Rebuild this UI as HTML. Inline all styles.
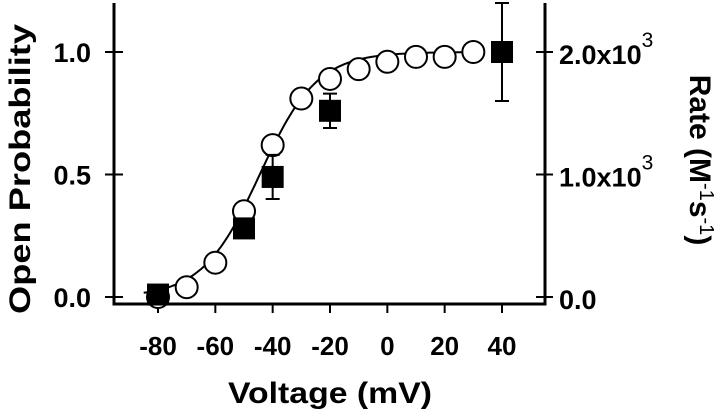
<!DOCTYPE html>
<html><head><meta charset="utf-8"><style>
body{margin:0;background:#fff;width:720px;height:413px;overflow:hidden}
svg text{font-family:"Liberation Sans",Arial,sans-serif;font-weight:bold;fill:#000}
</style></head><body>
<svg id="chart" width="720" height="413" xmlns="http://www.w3.org/2000/svg"></svg>
<script>
const circleV=[-80,-70,-60,-50,-40,-30,-20,-10,0,10,20,30];
const circleP=[0.0,0.04,0.14,0.35,0.62,0.81,0.89,0.93,0.96,0.98,0.98,1.0];
const squareV=[-80,-50,-40,-20,40];
const squareP=[0.01,0.28,0.49,0.76,1.0];
const squareErr=[0.0,0.0,0.09,0.07,0.2];
const xTicks=[-80,-60,-40,-20,0,20,40];
const yTicks=[0.0,0.5,1.0];
const yTickLabels=["0.0","0.5","1.0"];
const rTickLabels=["0.0","1.0x10","2.0x10"];
const fitVhalf=-44.5, fitSlope=10;

const NS="http://www.w3.org/2000/svg";
const svg=document.getElementById('chart');
const X=v=>158+(v+80)*(502-158)/120;
const Y=p=>297-p*245;
function el(tag,attrs,parent){const e=document.createElementNS(NS,tag);for(const k in attrs)e.setAttribute(k,attrs[k]);(parent||svg).appendChild(e);return e;}

let a=el('path',{d:'M114,3 V304 H545 V3',fill:'none',stroke:'#000','stroke-width':3});



xTicks.forEach(v=>{
  const t=el('line',{x1:X(v),x2:X(v),y1:304,y2:313,stroke:'#000','stroke-width':2});
  
  
  const l=el('text',{x:X(v),y:355,'font-size':26,'text-anchor':'middle'});
  l.textContent=v;
  
  
});
yTicks.forEach((p,i)=>{
  const t=el('line',{x1:105,x2:123,y1:Y(p),y2:Y(p),stroke:'#000','stroke-width':2});
  
  
  const l=el('text',{x:91,y:Y(p)+10,'font-size':27,'text-anchor':'end'});
  l.textContent=yTickLabels[i];
  
  
  const r=el('line',{x1:536,x2:553,y1:Y(p),y2:Y(p),stroke:'#000','stroke-width':2});
  
  
  const rl=el('text',{x:559,y:Y(p)+12,'font-size':27});
  rl.textContent=rTickLabels[i];
  if(i>0){const s=el('tspan',{dy:-17,'font-size':21,'font-weight':'normal'},rl);s.textContent='3';}
  
  
});

let d='';
for(let v=-85;v<=32;v+=1){const p=1/(1+Math.exp(-(v-fitVhalf)/fitSlope));d+=(d?'L':'M')+X(v).toFixed(1)+','+Y(p).toFixed(1);}
const fit=el('path',{d:d,fill:'none',stroke:'#000','stroke-width':2});



circleV.forEach((v,i)=>{
  const c=el('circle',{cx:X(v),cy:Y(circleP[i]),r:11,fill:'#fff',stroke:'#000','stroke-width':2});
  
  
});
squareV.forEach((v,i)=>{
  const x=X(v),y=Y(squareP[i]),e=squareErr[i]*245;
  if(e>0){
    const b=el('path',{d:`M${x},${y-e}V${y+e}M${x-7},${y-e}H${x+7}M${x-7},${y+e}H${x+7}`,stroke:'#000','stroke-width':2,fill:'none'});
    
    
  }
  const s=el('rect',{x:x-11,y:y-11,width:22,height:22,fill:'#000'});
  
  
});

const yt=el('text',{x:0,y:0,'font-size':30,'text-anchor':'middle',textLength:290,lengthAdjust:'spacingAndGlyphs',transform:'translate(30,169) rotate(-90)'});
yt.textContent='Open Probability';



const rt=el('text',{x:0,y:0,'font-size':30,'text-anchor':'middle',transform:'translate(690,160) rotate(90)'});
rt.textContent='Rate (M';
let s1=el('tspan',{dy:-10,'font-size':20,'font-weight':'normal'},rt);s1.textContent='-1';
let s2=el('tspan',{dy:10},rt);s2.textContent='s';
let s3=el('tspan',{dy:-10,'font-size':20,'font-weight':'normal'},rt);s3.textContent='-1';
let s4=el('tspan',{dy:10},rt);s4.textContent=')';



const xt=el('text',{x:330,y:403,'font-size':30,'text-anchor':'middle',textLength:204,lengthAdjust:'spacingAndGlyphs'});
xt.textContent='Voltage (mV)';


</script>
</body></html>
